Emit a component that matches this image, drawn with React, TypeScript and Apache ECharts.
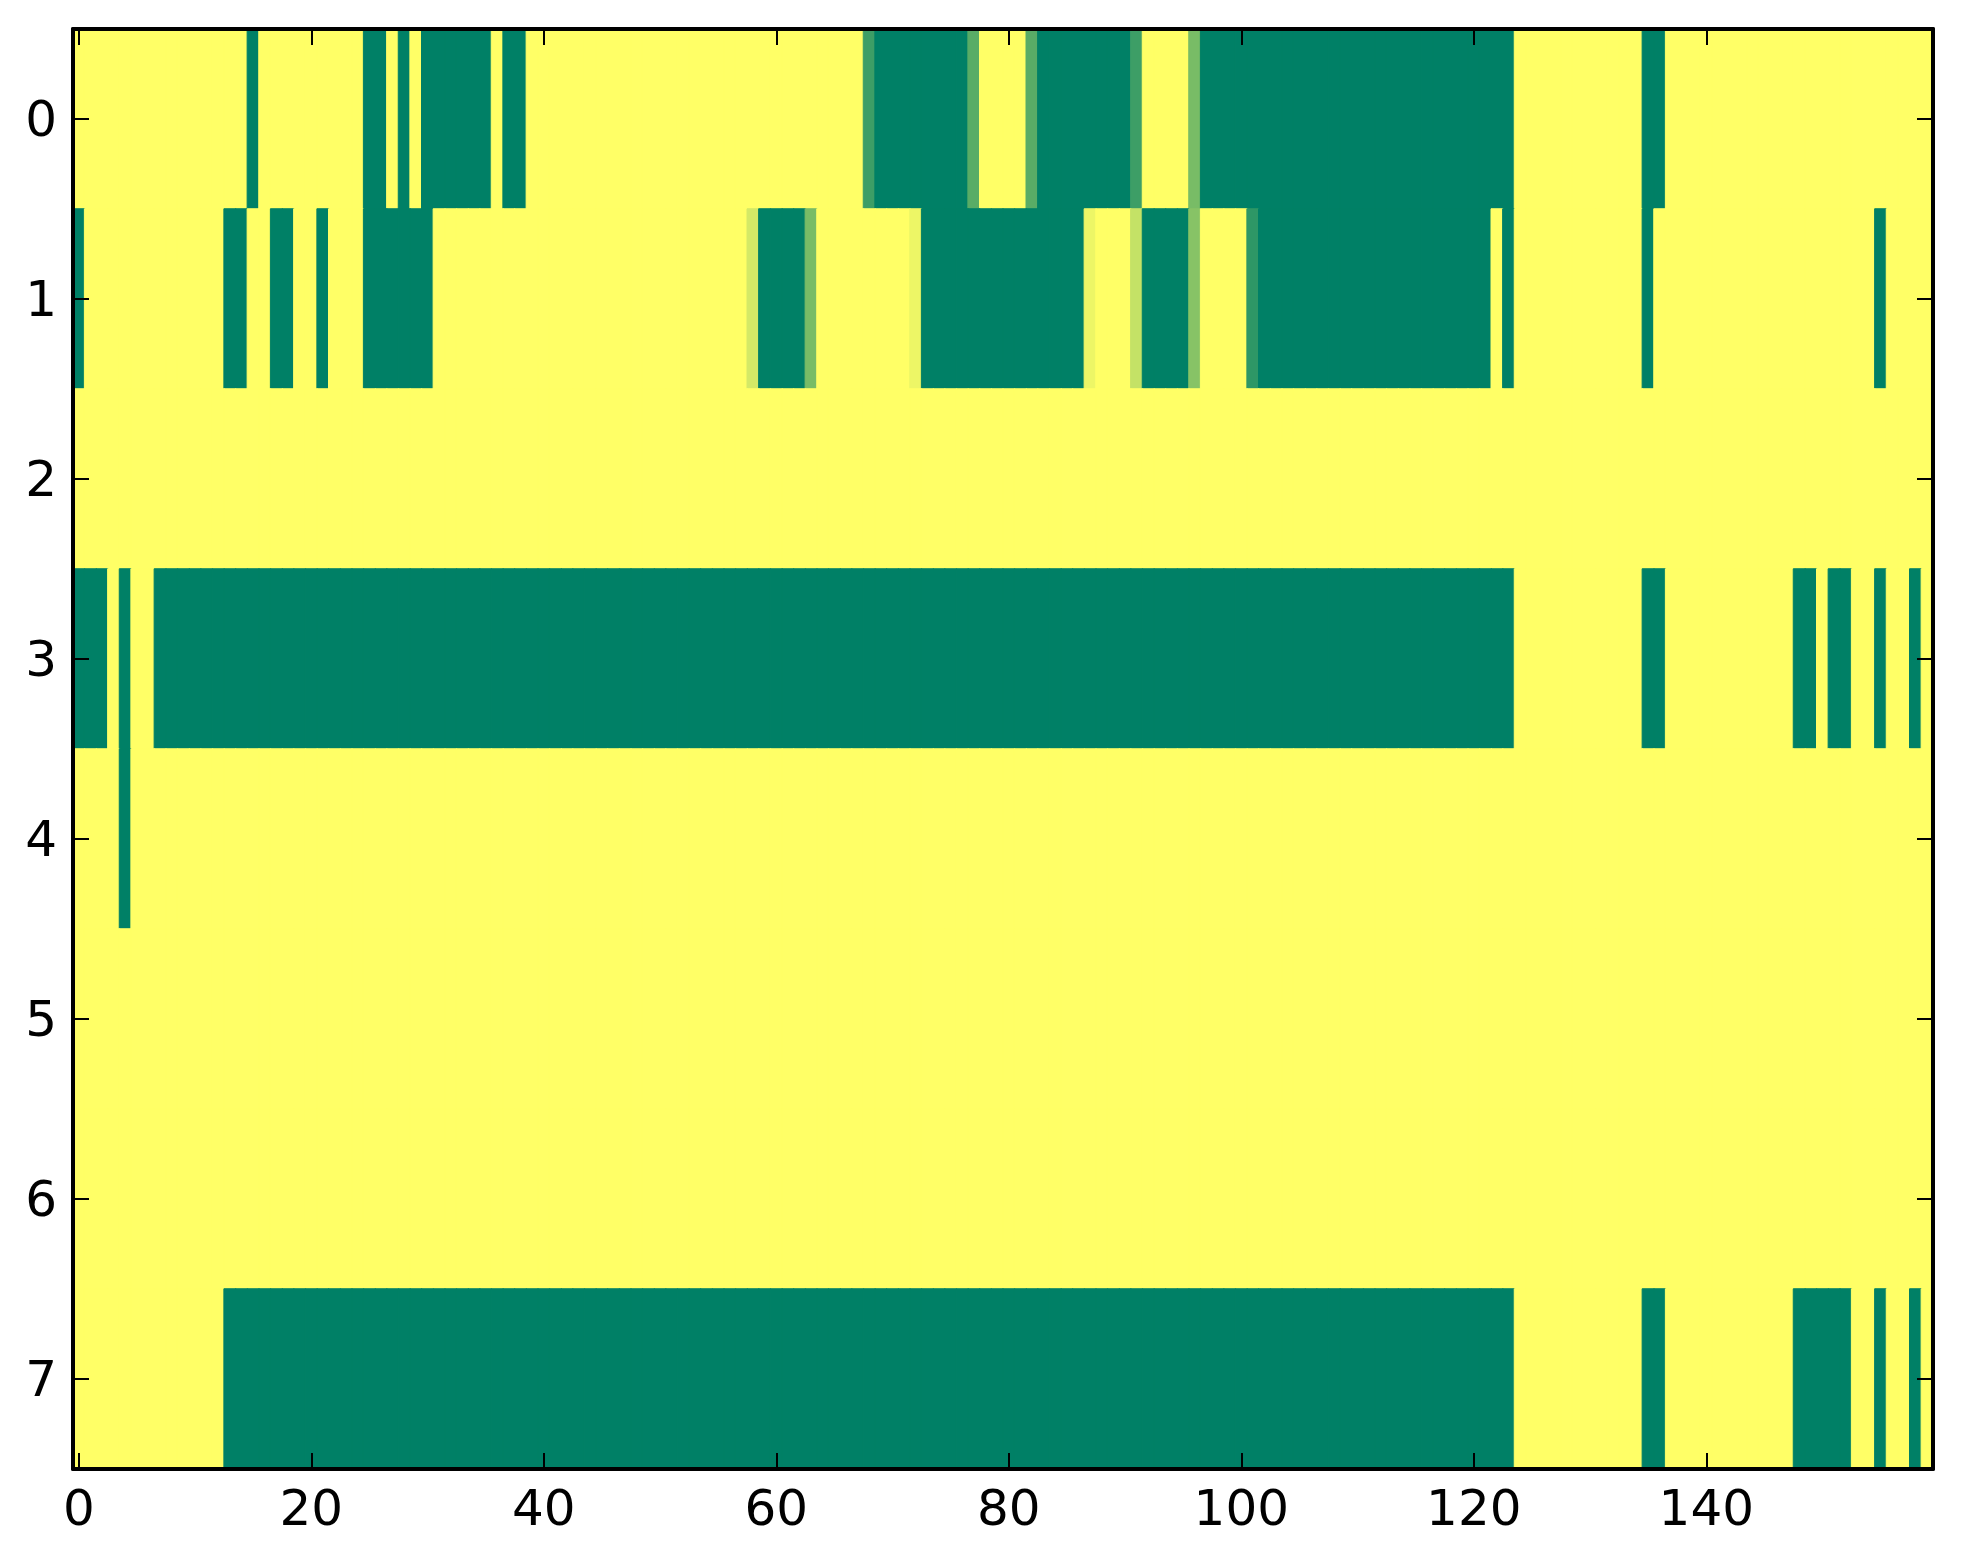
import React, { useEffect, useRef } from "react";
import * as echarts from "echarts";

// Column indices 0..159, row indices 0..7
const xCategories: string[] = Array.from({ length: 160 }, (_, i) => String(i));
const yCategories: string[] = ["0", "1", "2", "3", "4", "5", "6", "7"];

// Cell codes: '#' = 0 (low), '.' = 1 (high), letters = intermediate values
const levelCodes: Record<string, number> = {
  "#": 0,
  ".": 1,
  a: 0.18,
  b: 0.24,
  c: 0.35,
  d: 0.47,
  e: 0.53,
  f: 0.77,
  g: 0.83,
  h: 0.93,
};

const row0 = [
  "..........", ".....#....", ".....##.#.", "######.##.",
  "..........", "..........", "........b#", "#######c..",
  "..c#######", "#b....d###", "##########", "##########",
  "####......", ".....##...", "..........", "..........",
].join("");
const row1 = [
  "#.........", "...##..##.", ".#...#####", "#.........",
  "..........", "........g#", "###d......", "..h#######",
  "#######h..", ".f####e...", ".a########", "##########",
  "##.#......", ".....#....", "..........", ".....#....",
].join("");
const row2 = [
  "..........", "..........", "..........", "..........",
  "..........", "..........", "..........", "..........",
  "..........", "..........", "..........", "..........",
  "..........", "..........", "..........", "..........",
].join("");
const row3 = [
  "###.#..###", "##########", "##########", "##########",
  "##########", "##########", "##########", "##########",
  "##########", "##########", "##########", "##########",
  "####......", ".....##...", "........##", ".##..#..#.",
].join("");
const row4 = [
  "....#.....", "..........", "..........", "..........",
  "..........", "..........", "..........", "..........",
  "..........", "..........", "..........", "..........",
  "..........", "..........", "..........", "..........",
].join("");
const row5 = row2;
const row6 = row2;
const row7 = [
  "..........", "...#######", "##########", "##########",
  "##########", "##########", "##########", "##########",
  "##########", "##########", "##########", "##########",
  "####......", ".....##...", "........##", "###..#..#.",
].join("");

const rows: string[] = [row0, row1, row2, row3, row4, row5, row6, row7];

const FONT = "DejaVu Sans";

// "summer" colormap: (t, 0.5 + t/2, 0.4)
function summer(t: number): string {
  const r = Math.round(255 * t);
  const g = Math.round(255 * (0.5 + 0.5 * t));
  const b = Math.round(255 * 0.4);
  return `rgb(${r},${g},${b})`;
}

export default function App() {
  const ref = useRef<HTMLDivElement>(null);

  useEffect(() => {
    if (!ref.current) return;
    const chart = echarts.init(ref.current, undefined, { renderer: "svg" });

    const data: any[] = [];
    rows.forEach((r, y) => {
      for (let x = 0; x < r.length; x++) {
        const v = levelCodes[r[x]];
        const c = summer(v);
        data.push({
          value: [x, y, v],
          itemStyle: { borderColor: c, borderWidth: 1 },
        });
      }
    });

    const tickStyle = { color: "#000", width: 2 };
    const lineStyle = { color: "#000", width: 4 };

    chart.setOption({
      animation: false,
      backgroundColor: "#ffffff",
      grid: { left: 73, right: 30, top: 29, bottom: 95, containLabel: false },
      visualMap: {
        show: false,
        min: 0,
        max: 1,
        dimension: 2,
        seriesIndex: 0,
        inRange: { color: [summer(0), summer(1)] },
      },
      xAxis: [
        {
          type: "category",
          data: xCategories,
          position: "bottom",
          z: 10,
          axisLine: { show: true, onZero: false, lineStyle },
          axisTick: {
            show: true,
            inside: true,
            length: 16,
            alignWithLabel: true,
            interval: (i: number) => i % 20 === 0,
            lineStyle: tickStyle,
          },
          axisLabel: {
            show: true,
            interval: (i: number) => i % 20 === 0,
            fontFamily: FONT,
            fontSize: 50,
            color: "#000",
            margin: 14,
          },
          splitLine: { show: false },
        },
        {
          type: "category",
          data: xCategories,
          position: "top",
          z: 10,
          axisLine: { show: true, onZero: false, lineStyle },
          axisTick: {
            show: true,
            inside: true,
            length: 16,
            alignWithLabel: true,
            interval: (i: number) => i % 20 === 0,
            lineStyle: tickStyle,
          },
          axisLabel: { show: false },
          splitLine: { show: false },
        },
      ],
      yAxis: [
        {
          type: "category",
          data: yCategories,
          inverse: true,
          position: "left",
          z: 10,
          axisLine: { show: true, onZero: false, lineStyle },
          axisTick: {
            show: true,
            inside: true,
            length: 16,
            alignWithLabel: true,
            interval: 0,
            lineStyle: tickStyle,
          },
          axisLabel: {
            show: true,
            interval: 0,
            fontFamily: FONT,
            fontSize: 50,
            color: "#000",
            margin: 16,
          },
          splitLine: { show: false },
        },
        {
          type: "category",
          data: yCategories,
          inverse: true,
          position: "right",
          z: 10,
          axisLine: { show: true, onZero: false, lineStyle },
          axisTick: {
            show: true,
            inside: true,
            length: 16,
            alignWithLabel: true,
            interval: 0,
            lineStyle: tickStyle,
          },
          axisLabel: { show: false },
          splitLine: { show: false },
        },
      ],
      series: [
        {
          type: "heatmap",
          xAxisIndex: 0,
          yAxisIndex: 0,
          data,
          emphasis: { disabled: true },
        },
      ],
    });

    return () => chart.dispose();
  }, []);

  return (
    <div
      ref={ref}
      style={{ position: "absolute", left: 0, top: 0, width: 1963, height: 1564 }}
    />
  );
}
